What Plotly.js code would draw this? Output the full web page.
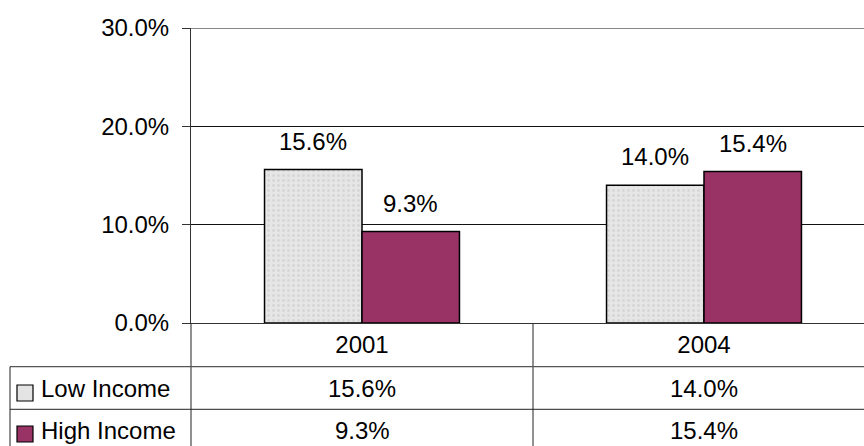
<!DOCTYPE html>
<html>
<head>
<meta charset="utf-8">
<script src="https://cdn.plot.ly/plotly-3.0.1.min.js"></script>
<style>html,body{margin:0;padding:0;background:#fff;}#chart{width:864px;height:446px;}</style>
</head>
<body>
<div id="chart"></div>
<script>
const categories = ['2001', '2004'];
const seriesNames = ['Low Income', 'High Income'];
const lowIncome = [0.156, 0.140];
const highIncome = [0.093, 0.154];
const yTickVals = [0, 0.1, 0.2, 0.3];

const seriesValues = [lowIncome, highIncome];
const seriesColors = ['#e4e4e4', '#993366'];
const FONT = 'Liberation Sans, Arial, sans-serif';
const FS = 24;

// pixel helpers (plot area: left 191, top 28, width 673, height 295)
const W = 864, H = 446, L = 191, T = 28, PH = 295, PW = W - L;
const px = X => (X - L) / PW;
const py = Y => (T + PH - Y) / PH;

const bargap = 0.43;
const barW = (1 - bargap) / 2;
const offsets = [-barW / 2, barW / 2];

const traces = seriesNames.map((name, s) => ({
  type: 'bar',
  name: name,
  x: categories,
  y: seriesValues[s],
  marker: {
    color: seriesColors[s],
    line: {color: '#000', width: 1.5},
    pattern: s === 0 ? {shape: '.', bgcolor: '#e6e6e6', fgcolor: '#d6d6d6', size: 5, solidity: 0.25} : undefined
  },
  showlegend: false,
  hoverinfo: 'skip'
}));

const annotations = [];
// data labels above bars
seriesNames.forEach((name, s) => {
  seriesValues[s].forEach((v, i) => {
    annotations.push({
      xref: 'x', yref: 'y', x: i + offsets[s], y: v,
      text: (v * 100).toFixed(1) + '%', showarrow: false,
      xanchor: 'center', yanchor: 'bottom', yshift: 13,
      font: {family: FONT, size: FS, color: '#000'}
    });
  });
});
// data table rows
const rowCenters = [388.5, 430];
seriesNames.forEach((name, s) => {
  annotations.push({
    xref: 'paper', yref: 'paper', x: px(39), y: py(rowCenters[s]),
    text: name, showarrow: false, xanchor: 'left', yanchor: 'middle',
    font: {family: FONT, size: FS, color: '#000'}
  });
  seriesValues[s].forEach((v, i) => {
    annotations.push({
      xref: 'x', yref: 'paper', x: i, y: py(rowCenters[s]),
      text: (v * 100).toFixed(1) + '%', showarrow: false,
      xanchor: 'center', yanchor: 'middle',
      font: {family: FONT, size: FS, color: '#000'}
    });
  });
});

const lineStyle = {color: '#222', width: 1};
const shapes = [
  // top gridline (30%)
  {type: 'line', xref: 'paper', yref: 'y', x0: 0, x1: 1, y0: yTickVals[yTickVals.length - 1], y1: yTickVals[yTickVals.length - 1], line: {color: '#111', width: 1}},
  // y-axis extension through table
  {type: 'line', xref: 'paper', yref: 'paper', x0: 0, x1: 0, y0: 0, y1: py(H + 2), line: lineStyle},
  // category boundary in table
  {type: 'line', xref: 'x', yref: 'paper', x0: 0.5, x1: 0.5, y0: 0, y1: py(H + 2), line: lineStyle},
  // horizontal table lines
  {type: 'line', xref: 'paper', yref: 'paper', x0: px(10), x1: 1, y0: py(366.7), y1: py(366.7), line: {color: '#555', width: 1.3}},
  {type: 'line', xref: 'paper', yref: 'paper', x0: px(10), x1: 1, y0: py(409.3), y1: py(409.3), line: lineStyle},
  // table left border
  {type: 'line', xref: 'paper', yref: 'paper', x0: px(10), x1: px(10), y0: py(366.7), y1: py(H + 2), line: lineStyle}
];
// legend keys
const keyTops = [385, 426];
seriesNames.forEach((name, s) => {
  shapes.push({
    type: 'rect', xref: 'paper', yref: 'paper',
    x0: px(17), x1: px(33), y0: py(keyTops[s]), y1: py(keyTops[s] + 16),
    fillcolor: seriesColors[s], line: {color: '#000', width: 1.2}
  });
});

const layout = {
  width: W, height: H,
  margin: {l: L, r: 0, t: T, b: H - T - PH, pad: 0},
  paper_bgcolor: '#fff', plot_bgcolor: '#fff',
  barmode: 'group', bargap: bargap, bargroupgap: 0,
  showlegend: false,
  font: {family: FONT, size: FS, color: '#000'},
  xaxis: {
    type: 'category', range: [-0.5, (W - L) / 342 - 0.5],
    showgrid: false, zeroline: false, ticks: '',
    showline: true, linecolor: '#333', linewidth: 1,
    tickfont: {family: FONT, size: FS, color: '#000'},
    fixedrange: true
  },
  yaxis: {
    range: [0, 0.3], tickvals: yTickVals, tickformat: '.1%',
    ticks: 'outside', ticklen: 8, tickcolor: '#333', tickwidth: 1,
    ticklabelstandoff: 8,
    showgrid: true, gridcolor: '#111', gridwidth: 1,
    showline: true, linecolor: '#333', linewidth: 1, zeroline: false,
    tickfont: {family: FONT, size: FS, color: '#000'},
    fixedrange: true
  },
  annotations: annotations,
  shapes: shapes
};

Plotly.newPlot('chart', traces, layout, {displayModeBar: false, staticPlot: true});
</script>
</body>
</html>
